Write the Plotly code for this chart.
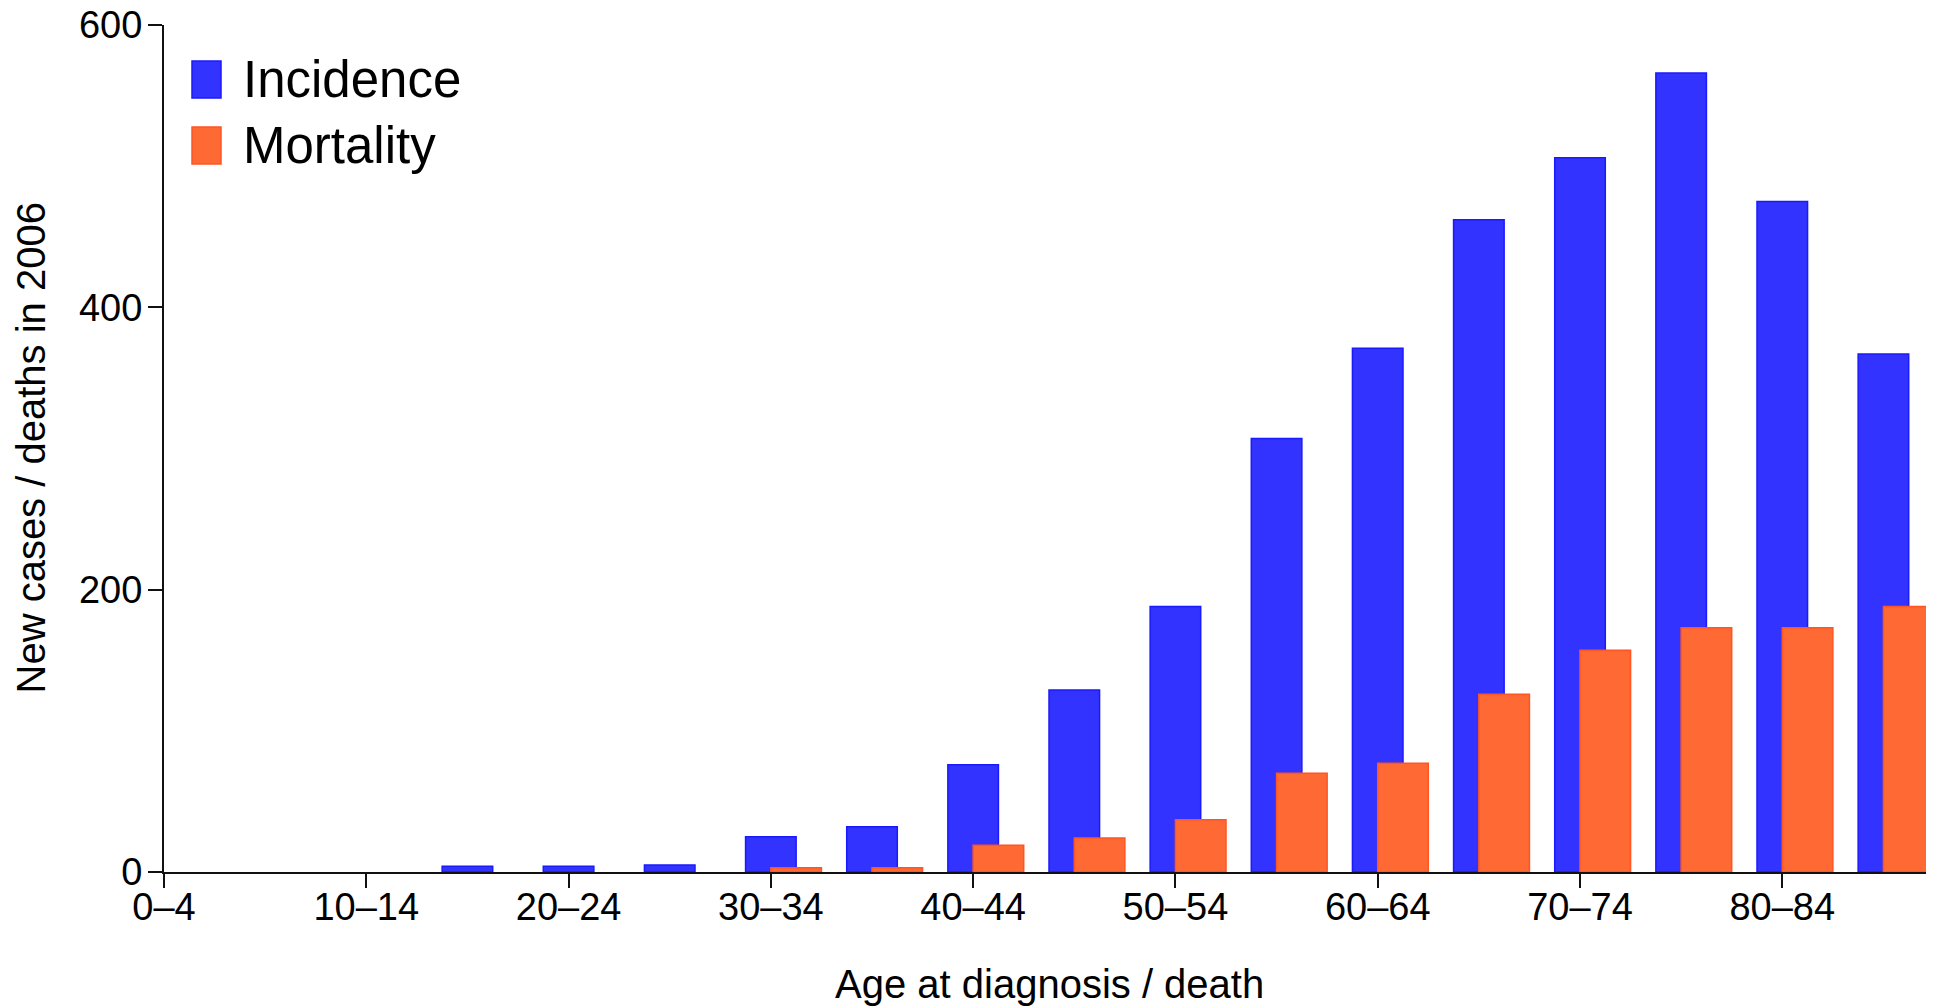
import plotly.graph_objects as go

age_groups = ["0–4", "5–9", "10–14", "15–19", "20–24", "25–29", "30–34", "35–39",
              "40–44", "45–49", "50–54", "55–59", "60–64", "65–69", "70–74",
              "75–79", "80–84", "85+"]
incidence = [0, 0, 0, 4, 4, 5, 25, 32, 76, 129, 188, 307, 371, 462, 506, 566, 475, 367]
mortality = [0, 0, 0, 0, 0, 0, 3, 3, 19, 24, 37, 70, 77, 126, 157, 173, 173, 188]
tick_labels = age_groups[0:17:2]
y_ticks = [0, 200, 400, 600]

pos = list(range(len(age_groups)))
FONT = "Liberation Sans, Arial, Helvetica, sans-serif"
INC_FILL = "#3333FF"
INC_LINE = "#1A1AFF"
MORT_FILL = "#FF6933"
MORT_LINE = "#FF5522"

# page body has an 8px margin: figure is placed at (8, 8) in the window
W, H = 1926, 999
L, T, B = 156, 17, 135
PW, PH = W - L, H - T - B          # plot area: screen x 164..1934, y 25..872
SX0, SY1 = L + 8, T + 8 + PH        # screen coords of plot-left and plot-bottom

def px(x):  # screen x -> paper
    return (x - SX0) / PW

def py(y):  # screen y -> paper
    return (SY1 - y) / PH

fig = go.Figure()
fig.add_trace(go.Bar(x=pos, y=incidence, width=0.5, offset=-0.25, name="Incidence",
                     marker=dict(color=INC_FILL,
                                 line=dict(color=INC_LINE,
                                           width=[1.5 if v else 0 for v in incidence]))))
fig.add_trace(go.Bar(x=pos, y=mortality, width=0.5, offset=0.0, name="Mortality",
                     marker=dict(color=MORT_FILL,
                                 line=dict(color=MORT_LINE,
                                           width=[1.5 if v else 0 for v in mortality]))))

fig.update_layout(
    width=W, height=H,
    margin=dict(l=L, r=0, t=T, b=B, pad=0, autoexpand=False),
    paper_bgcolor="white", plot_bgcolor="white",
    barmode="overlay", showlegend=False,
    font=dict(family=FONT, size=38, color="black"),
    xaxis=dict(range=[0, 17.5], tickvals=pos[0:17:2], ticktext=tick_labels,
               showgrid=False, zeroline=False, showline=True, linecolor="#111111",
               linewidth=2, ticks="outside", ticklen=14, tickwidth=2, tickcolor="#111111",
               tickfont=dict(size=38), ticklabelstandoff=-14,
               ticklabeloverflow="allow", automargin=False),
    yaxis=dict(range=[0, 600], tickvals=y_ticks, showgrid=False, zeroline=False,
               showline=True, linecolor="#111111", linewidth=2, ticks="outside",
               ticklen=14, tickwidth=2, tickcolor="#111111", tickfont=dict(size=38),
               ticklabelstandoff=-2, ticklabeloverflow="allow", automargin=False),
)

# axis titles
fig.add_annotation(text="Age at diagnosis / death", xref="paper", yref="paper",
                   x=0.5, y=0, yshift=-112, xanchor="center", yanchor="middle",
                   showarrow=False, font=dict(size=40))
fig.add_annotation(text="New cases / deaths in 2006", xref="paper", yref="paper",
                   x=0, y=0.5, xshift=-134, xanchor="center", yanchor="middle",
                   textangle=-90, showarrow=False, font=dict(size=40))

# legend drawn manually
legend_items = [("Incidence", INC_FILL, INC_LINE), ("Mortality", MORT_FILL, MORT_LINE)]
for k, (label, fill, line) in enumerate(legend_items):
    top = 61 + 66 * k
    fig.add_shape(type="rect", xref="paper", yref="paper",
                  x0=px(192), x1=px(221), y0=py(top + 37), y1=py(top),
                  fillcolor=fill, line=dict(color=line, width=1.5))
    fig.add_annotation(text=label, xref="paper", yref="paper",
                       x=px(241), y=py(top + 18.5),
                       xanchor="left", yanchor="middle", showarrow=False,
                       font=dict(size=51))

fig.write_html("out.html")
